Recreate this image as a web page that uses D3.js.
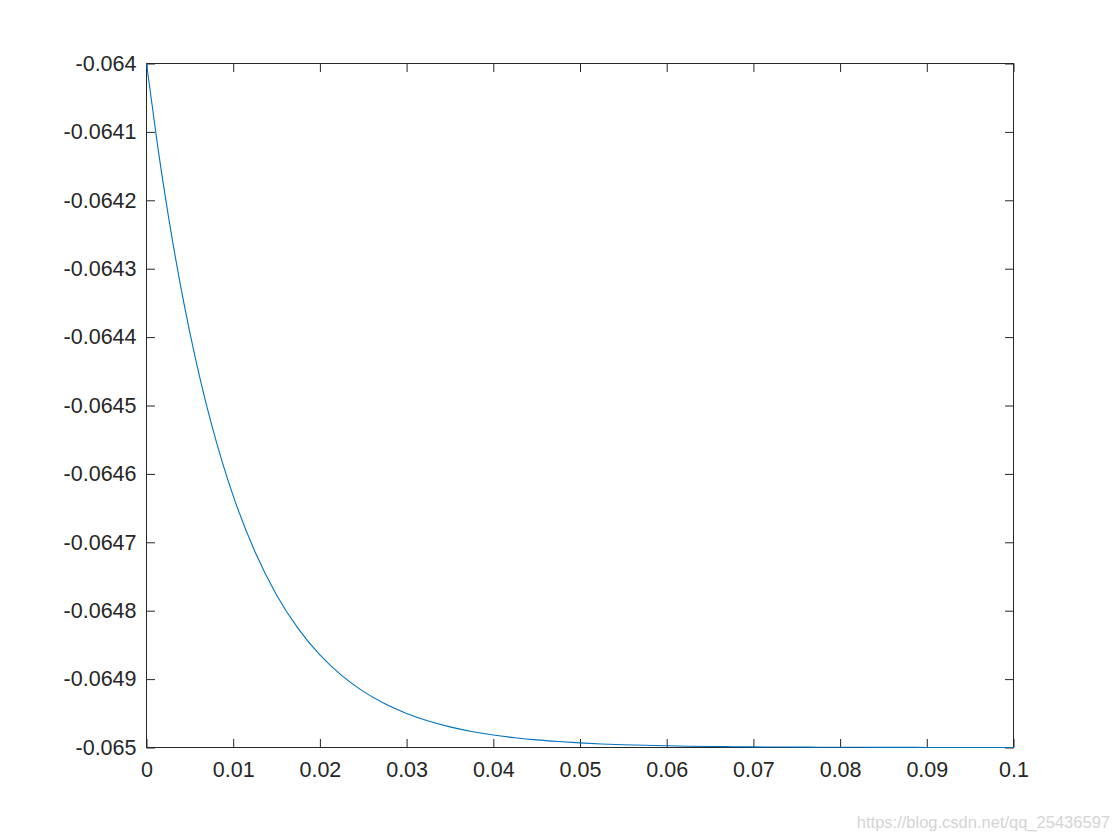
<!DOCTYPE html>
<html>
<head>
<meta charset="utf-8">
<script src="https://cdn.jsdelivr.net/npm/d3@7"></script>
<style>
  html, body { margin: 0; padding: 0; background: #fff; }
  svg { display: block; }
</style>
</head>
<body>
<svg id="chart" width="1120" height="840"></svg>
<script>
// ---- data ----
const xValues = [0, 0.00125, 0.0025, 0.00375, 0.005, 0.00625, 0.0075, 0.00875, 0.01,
  0.0125, 0.015, 0.0175, 0.02, 0.0225, 0.025, 0.0275, 0.03, 0.0325, 0.035, 0.0375,
  0.04, 0.0425, 0.045, 0.0475, 0.05, 0.0525, 0.055, 0.0575, 0.06, 0.0625, 0.065,
  0.0675, 0.07, 0.0725, 0.075, 0.0775, 0.08, 0.0825, 0.085, 0.0875, 0.09, 0.0925,
  0.095, 0.0975, 0.1];
const yValues = [-0.0640000, -0.0641175, -0.0642212, -0.0643127, -0.0643935, -0.0644647,
  -0.0645276, -0.0645831, -0.0646321,
  -0.0647135, -0.0647769, -0.0648262, -0.0648647, -0.0648946, -0.0649179, -0.0649361,
  -0.0649502, -0.0649612, -0.0649698, -0.0649765, -0.0649817, -0.0649857, -0.0649889,
  -0.0649913, -0.0649933, -0.0649948, -0.0649959, -0.0649968, -0.0649975, -0.0649981,
  -0.0649985, -0.0649988, -0.0649991, -0.0649993, -0.0649994, -0.0649996, -0.0649997,
  -0.0649997, -0.0649998, -0.0649998, -0.0649999, -0.0649999, -0.0649999, -0.0649999,
  -0.0650000];
const xTicks = [0, 0.01, 0.02, 0.03, 0.04, 0.05, 0.06, 0.07, 0.08, 0.09, 0.1];
const xTickLabels = ["0", "0.01", "0.02", "0.03", "0.04", "0.05", "0.06", "0.07", "0.08", "0.09", "0.1"];
const yTicks = [-0.065, -0.0649, -0.0648, -0.0647, -0.0646, -0.0645, -0.0644, -0.0643, -0.0642, -0.0641, -0.064];
const yTickLabels = ["-0.065", "-0.0649", "-0.0648", "-0.0647", "-0.0646", "-0.0645", "-0.0644", "-0.0643", "-0.0642", "-0.0641", "-0.064"];
const watermark = "https://blog.csdn.net/qq_25436597";

// ---- layout ----
const L = 146.5, R = 1013.5, T = 63.5, B = 747.5;
const axisColor = "#262626";
const fontFam = "'Liberation Sans', Arial, Helvetica, sans-serif";
const fontSize = "21.5px";
const tickLen = 8.5;

const svg = d3.select("#chart");
const x = d3.scaleLinear().domain([0, 0.1]).range([L, R]);
const y = d3.scaleLinear().domain([-0.065, -0.064]).range([B, T]);

// bottom axis (inward ticks)
const xAxis = d3.axisBottom(x).tickValues(xTicks)
  .tickFormat((d, i) => xTickLabels[i]).tickSizeInner(-tickLen).tickSizeOuter(0).tickPadding(14);
const gx = svg.append("g").attr("transform", `translate(0,${B})`).call(xAxis);

// left axis
const yAxis = d3.axisLeft(y).tickValues(yTicks)
  .tickFormat((d, i) => yTickLabels[i]).tickSizeInner(-tickLen).tickSizeOuter(0).tickPadding(10);
const gy = svg.append("g").attr("transform", `translate(${L},0)`).call(yAxis);

// top & right mirrored ticks
const gxt = svg.append("g").attr("transform", `translate(0,${T})`)
  .call(d3.axisTop(x).tickValues(xTicks).tickFormat("").tickSizeInner(-tickLen).tickSizeOuter(0));
const gyr = svg.append("g").attr("transform", `translate(${R},0)`)
  .call(d3.axisRight(y).tickValues(yTicks).tickFormat("").tickSizeInner(-tickLen).tickSizeOuter(0));

[gx, gy, gxt, gyr].forEach(g => {
  g.select(".domain").remove();
  g.selectAll(".tick line").attr("stroke", axisColor).attr("stroke-width", 1);
  g.selectAll(".tick text").attr("fill", axisColor)
    .style("font-family", fontFam).style("font-size", fontSize);
});

// box
svg.append("rect").attr("x", L).attr("y", T).attr("width", R - L).attr("height", B - T)
  .attr("fill", "none").attr("stroke", axisColor).attr("stroke-width", 1);

// curve
const pts = xValues.map((d, i) => [d, yValues[i]]);
const line = d3.line().x(d => x(d[0])).y(d => y(d[1])).curve(d3.curveMonotoneX);
svg.append("path").datum(pts).attr("d", line)
  .attr("fill", "none").attr("stroke", "#0072BD").attr("stroke-width", 1.1);

// watermark
svg.append("text").attr("x", 1110).attr("y", 828).attr("text-anchor", "end")
  .style("font-family", fontFam).style("font-size", "16.5px").attr("fill", "#d4d4d4")
  .text(watermark);
</script>
</body>
</html>
